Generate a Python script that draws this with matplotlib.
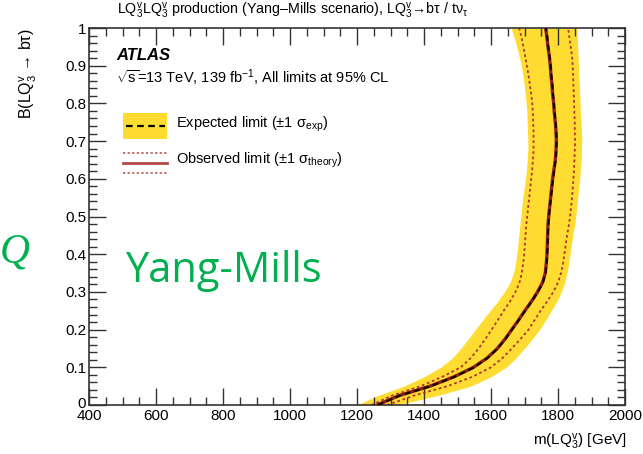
import numpy as np
import matplotlib
matplotlib.use("Agg")
import matplotlib.pyplot as plt
import matplotlib.transforms as mtransforms
from matplotlib.patches import Rectangle
from matplotlib.lines import Line2D
from matplotlib.ticker import MultipleLocator

plt.rcParams['font.family'] = ['Liberation Sans', 'DejaVu Sans']
plt.rcParams['mathtext.fontset'] = 'custom'
plt.rcParams['mathtext.rm'] = 'Liberation Sans'
plt.rcParams['mathtext.it'] = 'Liberation Sans:italic'
plt.rcParams['mathtext.bf'] = 'Liberation Sans:bold'

# ---- data ----
branching = [0.0, 0.025, 0.05, 0.075, 0.1, 0.125, 0.15, 0.175, 0.2, 0.225,
             0.25, 0.275, 0.3, 0.325, 0.35, 0.375, 0.4, 0.425, 0.45, 0.475,
             0.5, 0.525, 0.55, 0.575, 0.6, 0.625, 0.65, 0.675, 0.7, 0.725,
             0.75, 0.775, 0.8, 0.825, 0.85, 0.875, 0.9, 0.925, 0.95, 0.975, 1.0]
expected = [1262, 1328, 1420, 1492, 1550, 1590, 1620, 1643, 1663, 1683,
            1702, 1722, 1740, 1755, 1763, 1766, 1768, 1769, 1770, 1771,
            1773, 1776, 1779, 1782, 1785, 1789, 1793, 1795, 1796, 1795,
            1793, 1790, 1788, 1785, 1783, 1780, 1778, 1775, 1771, 1768, 1764]
observed = [1260, 1326, 1418, 1490, 1548, 1589, 1619, 1642, 1662, 1682,
            1701, 1721, 1739, 1754, 1762, 1765, 1767, 1768, 1769, 1770,
            1772, 1775, 1778, 1781, 1784, 1788, 1792, 1794, 1795, 1794,
            1792, 1789, 1787, 1784, 1782, 1779, 1777, 1774, 1770, 1767, 1763]
exp_lo = [1200, 1262, 1340, 1400, 1450, 1485, 1510, 1532, 1553, 1575,
          1597, 1620, 1640, 1657, 1667, 1673, 1677, 1680, 1683, 1686,
          1689, 1692, 1695, 1699, 1703, 1706, 1708, 1710, 1710, 1709,
          1708, 1707, 1705, 1702, 1699, 1695, 1690, 1684, 1677, 1669, 1660]
exp_hi = [1320, 1440, 1540, 1600, 1645, 1675, 1700, 1723, 1745, 1763,
          1780, 1797, 1810, 1820, 1827, 1832, 1836, 1840, 1844, 1849,
          1853, 1856, 1859, 1862, 1865, 1867, 1869, 1870, 1871, 1870,
          1869, 1867, 1866, 1865, 1864, 1862, 1861, 1860, 1859, 1858, 1856]
theo_lo = [1243, 1305, 1390, 1455, 1510, 1540, 1563, 1583, 1602, 1620,
           1638, 1657, 1673, 1685, 1692, 1696, 1699, 1701, 1703, 1705,
           1708, 1711, 1714, 1717, 1720, 1723, 1725, 1727, 1727, 1727,
           1726, 1725, 1723, 1720, 1716, 1712, 1707, 1702, 1697, 1691, 1684]
theo_hi = [1290, 1370, 1470, 1545, 1600, 1635, 1662, 1688, 1712, 1730,
           1748, 1768, 1786, 1800, 1809, 1815, 1819, 1823, 1827, 1832,
           1836, 1839, 1842, 1844, 1846, 1848, 1849, 1850, 1851, 1850,
           1850, 1849, 1848, 1847, 1846, 1845, 1844, 1842, 1838, 1834, 1830]

x_ticks = [400, 600, 800, 1000, 1200, 1400, 1600, 1800, 2000]
y_ticks = [0, 0.1, 0.2, 0.3, 0.4, 0.5, 0.6, 0.7, 0.8, 0.9, 1]
y_ticklabels = ['0', '0.1', '0.2', '0.3', '0.4', '0.5', '0.6', '0.7', '0.8', '0.9', '1']

YELLOW = '#fedc32'
OBS = '#8e1f16'
THEO = '#b0362c'
GREEN = '#00b050'

W, H = 643, 454
fig = plt.figure(figsize=(W / 100, H / 100), dpi=100)
L, R, T, B = 89, 625, 28, 405
ax = fig.add_axes([L / W, 1 - B / H, (R - L) / W, (B - T) / H])

ax.fill_betweenx(branching, exp_lo, exp_hi, color=YELLOW, lw=0, zorder=1)
ax.plot(theo_lo, branching, color=THEO, lw=1.3, ls=(0, (1.5, 1.5)), zorder=2)
ax.plot(theo_hi, branching, color=THEO, lw=1.3, ls=(0, (1.5, 1.5)), zorder=2)
ax.plot(observed, branching, color=OBS, lw=2.4, zorder=3)
ax.plot(expected, branching, color='black', lw=1.4, ls=(0, (3, 2)), zorder=4)

ax.set_xlim(400, 2000)
ax.set_ylim(0, 1)
ax.set_xticks(x_ticks)
ax.set_xticklabels([str(v) for v in x_ticks])
ax.set_yticks(y_ticks)
ax.set_yticklabels(y_ticklabels)
ax.xaxis.set_minor_locator(MultipleLocator(50))
ax.yaxis.set_minor_locator(MultipleLocator(0.02))
ax.tick_params(which='both', direction='in', top=True, right=True,
               labelsize=11, color='#333333')
ax.tick_params(which='major', length=12, width=1)
ax.tick_params(which='minor', length=6, width=1)
ax.tick_params(axis='x', pad=3)
ax.tick_params(axis='y', pad=2)
for s in ax.spines.values():
    s.set_linewidth(1.2)
    s.set_color('#333333')

# nudge the "0" y label up a little (ROOT-style crowding at the corner)
zero_lbl = ax.get_yticklabels()[0]
zero_lbl.set_transform(zero_lbl.get_transform() +
                       mtransforms.ScaledTranslation(0, 3 / 100, fig.dpi_scale_trans))

# axis labels
fig.text(627 / W, 1 - 446 / H, r'm(LQ$_3^\mathrm{v}$) [GeV]', ha='right',
         va='baseline', fontsize=11)
fig.text(28 / W, 1 - 28 / H, r'B(LQ$_3^\mathrm{v}$ → bτ)', ha='center',
         va='top', rotation=90, fontsize=11.5)

# title
fig.text(117 / W, 1 - 11 / H,
         r'LQ$_3^\mathrm{v}$LQ$_3^\mathrm{v}$ production (Yang–Mills scenario), '
         r'LQ$_3^\mathrm{v}$→bτ / tν$_\mathrm{τ}$',
         ha='left', va='center', fontsize=10.3)

# ATLAS labels
fx = lambda px: (px - L) / (R - L)
fy = lambda py: (B - py) / (B - T)
ax.text(fx(116), fy(55), 'ATLAS', transform=ax.transAxes, fontsize=12,
        fontweight='bold', fontstyle='italic', ha='left', va='center')
ax.text(fx(116), fy(78), r'$\sqrt{\mathrm{s}}$=13 TeV, 139 fb$^{-1}$, All limits at 95% CL',
        transform=ax.transAxes, fontsize=10.5, ha='left', va='center')

# legend
ax.add_patch(Rectangle((fx(123), fy(139)), fx(167) - fx(123), fy(113) - fy(139),
                       transform=ax.transAxes, color=YELLOW, lw=0, zorder=5))
ax.add_line(Line2D([fx(126), fx(165)], [fy(126), fy(126)], transform=ax.transAxes,
                   color='black', lw=1.6, ls=(0, (3, 2)), zorder=6))
ax.add_line(Line2D([fx(123), fx(167)], [fy(163), fy(163)], transform=ax.transAxes,
                   color='#b04a44', lw=2.0, zorder=6))
for yy in (153, 173):
    ax.add_line(Line2D([fx(123), fx(167)], [fy(yy), fy(yy)], transform=ax.transAxes,
                       color='#b04a44', lw=1.1, ls=(0, (1.5, 1.5)), zorder=6))
ax.text(fx(176), fy(124), r'Expected limit (±1 σ$_\mathrm{exp}$)', transform=ax.transAxes,
        fontsize=10.5, ha='left', va='center')
ax.text(fx(176), fy(160), r'Observed limit (±1 σ$_\mathrm{theory}$)', transform=ax.transAxes,
        fontsize=10.5, ha='left', va='center')

# overlay annotations
fig.text(15 / W, 1 - 252 / H, 'Q', color=GREEN, fontsize=30, fontstyle='italic',
         family=['Liberation Serif', 'DejaVu Serif'], ha='center', va='center')
fig.text(125 / W, 1 - 282 / H, 'Yang-Mills', color=GREEN, fontsize=30,
         family=['Open Sans', 'DejaVu Sans'], ha='left', va='baseline')

fig.savefig('out.png', dpi=100)
